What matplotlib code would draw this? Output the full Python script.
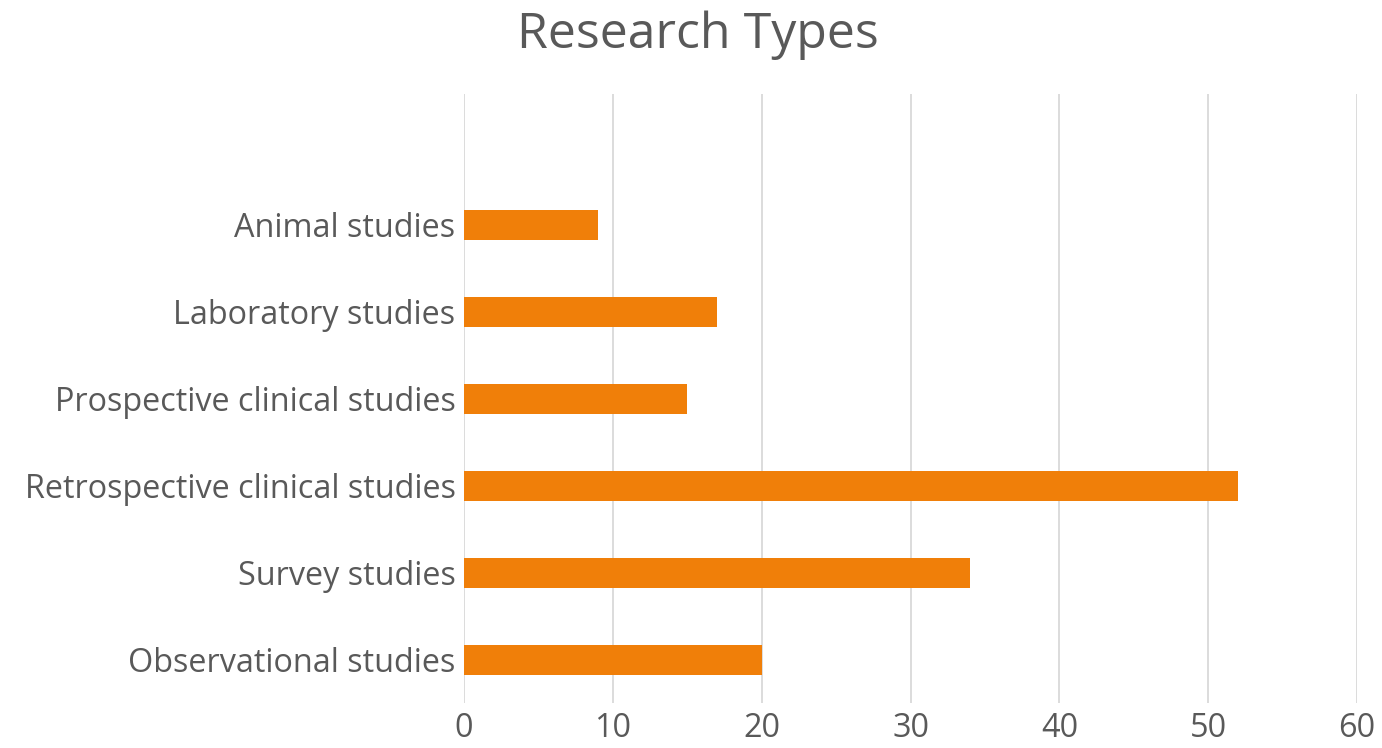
import numpy as np
import matplotlib.pyplot as plt

# Research types, listed from bottom to top (top slot is empty)
categories = ['Observational studies', 'Survey studies', 'Retrospective clinical studies',
              'Prospective clinical studies', 'Laboratory studies', 'Animal studies', '']
counts = [20, 34, 52, 15, 17, 9, 0]
xticks = [0, 10, 20, 30, 40, 50, 60]

plt.rcParams['font.family'] = ['Open Sans', 'DejaVu Sans']
text_color = '#595959'

fig = plt.figure(figsize=(13.82, 7.48), dpi=100)
ax = fig.add_axes([0.3357, 0.0595, 0.6463, 0.8142])

y = np.arange(len(categories))
ax.barh(y, counts, height=0.35, color='#F07F09', zorder=3)

ax.set_xlim(0, 60)
ax.set_ylim(-0.5, len(categories) - 0.5)
ax.set_xticks(xticks)
ax.set_yticks(y)
ax.set_yticklabels(categories)
ax.grid(axis='x', color='#D9D9D9', linewidth=1.3, zorder=0)
ax.tick_params(axis='both', length=0, labelsize=23.3, colors=text_color)
ax.tick_params(axis='x', pad=6)
ax.tick_params(axis='y', pad=6)
for s in ax.spines.values():
    s.set_visible(False)

fig.text(0.505, 0.953, 'Research Types', ha='center', va='center',
         fontsize=36, color=text_color)

fig.savefig('out.png', dpi=100)
